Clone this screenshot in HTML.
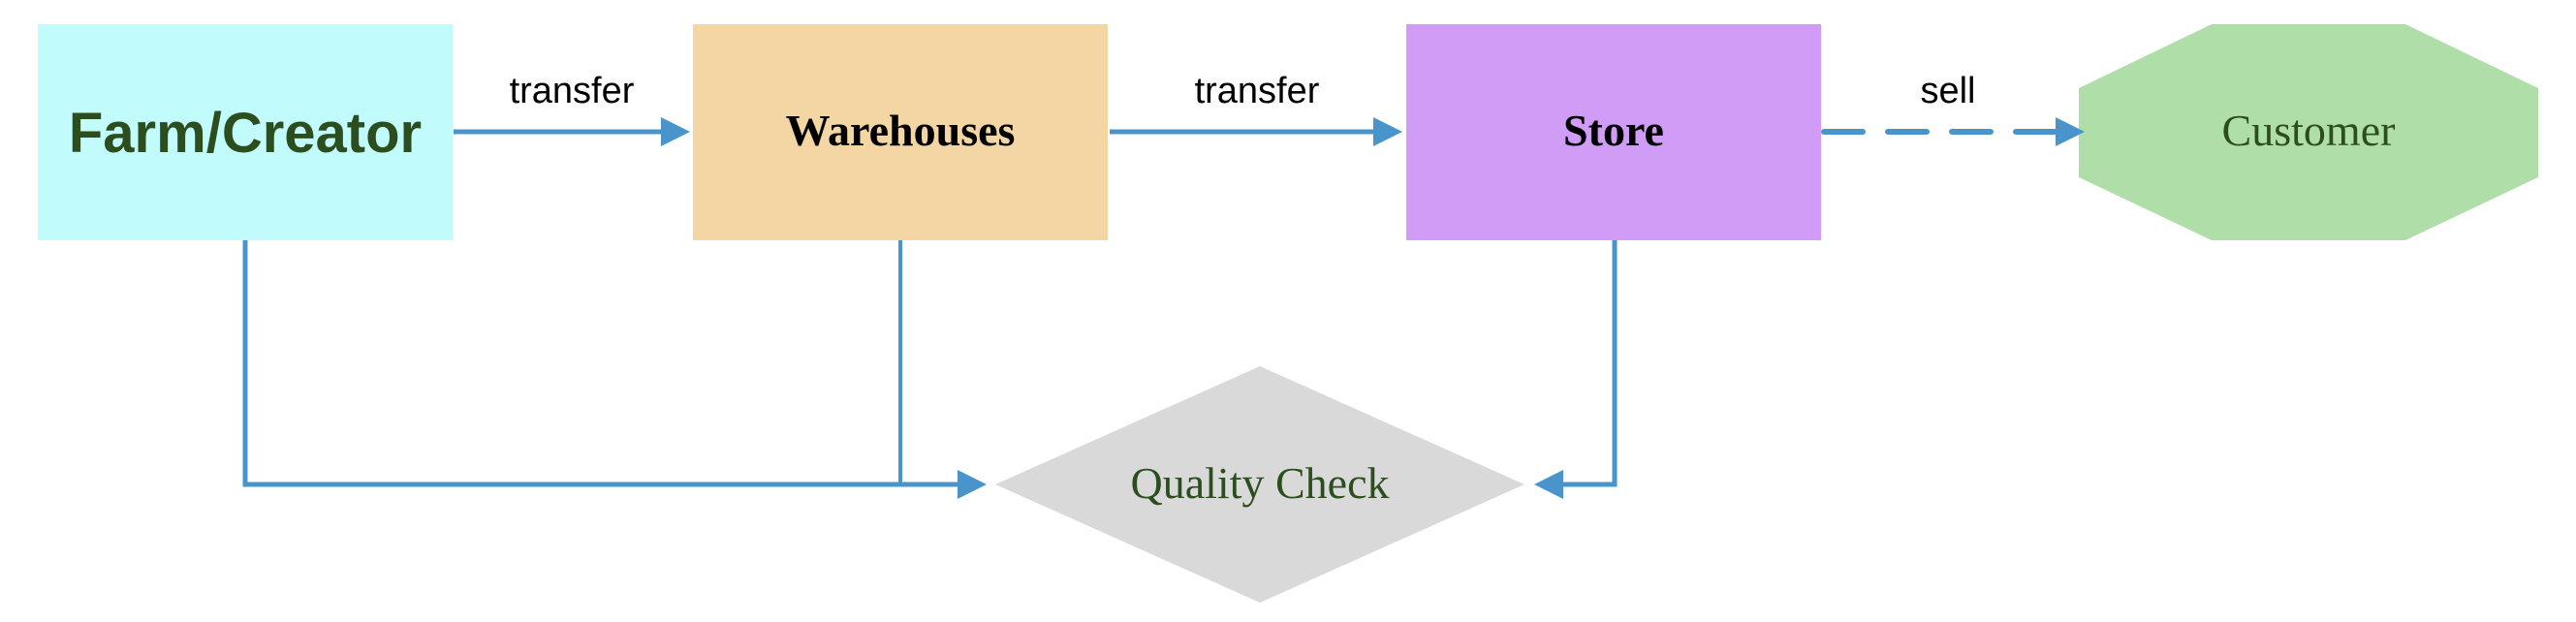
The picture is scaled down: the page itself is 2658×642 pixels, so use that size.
<!DOCTYPE html>
<html><head><meta charset="utf-8"><style>
html,body{margin:0;padding:0;background:#fff;}
svg{display:block;}
</style></head><body>
<svg width="2658" height="642" viewBox="0 0 2658 642" xmlns="http://www.w3.org/2000/svg">
<rect x="39" y="25" width="428" height="223" fill="#c2fbfc"/>
<rect x="715" y="25" width="428" height="223" fill="#f3d6a4"/>
<rect x="1451" y="25" width="428" height="223" fill="#d09cf6"/>
<polygon points="2282,25 2482,25 2619,91 2619,183 2482,248 2282,248 2145,183 2145,91" fill="#b0dea8"/>
<polygon points="1300,378 1573,500 1300,622 1027,500" fill="#d9d9d9"/>
<g stroke="#4a94cc" fill="none">
<line x1="468" y1="136" x2="686" y2="136" stroke-width="5"/>
<line x1="1145" y1="136" x2="1420" y2="136" stroke-width="5"/>
<line x1="1882" y1="136" x2="2124" y2="136" stroke-width="6" stroke-dasharray="40 26" stroke-linecap="round"/>
<polyline points="253,248 253,500 990,500" stroke-width="5"/>
<line x1="929" y1="248" x2="929" y2="500" stroke-width="4"/>
<polyline points="1666,248 1666,500 1610,500" stroke-width="5"/>
</g>
<g fill="#4a94cc">
<polygon points="712,136 682,121 682,151"/>
<polygon points="1447,136 1417,121 1417,151"/>
<polygon points="2151,136 2121,121 2121,151"/>
<polygon points="1018,500 988,485 988,515"/>
<polygon points="1583,500 1613,485 1613,515"/>
</g>
<g font-family="Liberation Sans, sans-serif" font-size="38" fill="#000" text-anchor="middle">
<text x="590" y="106">transfer</text>
<text x="1297" y="106">transfer</text>
<text x="2010" y="106">sell</text>
</g>
<text x="253" y="157" font-family="Liberation Sans, sans-serif" font-weight="bold" font-size="58" fill="#2c4e1e" text-anchor="middle">Farm/Creator</text>
<g font-family="Liberation Serif, serif" font-size="46" text-anchor="middle">
<text x="929" y="150" font-weight="bold" fill="#000">Warehouses</text>
<text x="1665" y="150" font-weight="bold" fill="#000">Store</text>
<text x="2382" y="150" fill="#2c4e1e">Customer</text>
<text x="1300" y="514" fill="#2c4e1e">Quality Check</text>
</g>
</svg>
</body></html>
